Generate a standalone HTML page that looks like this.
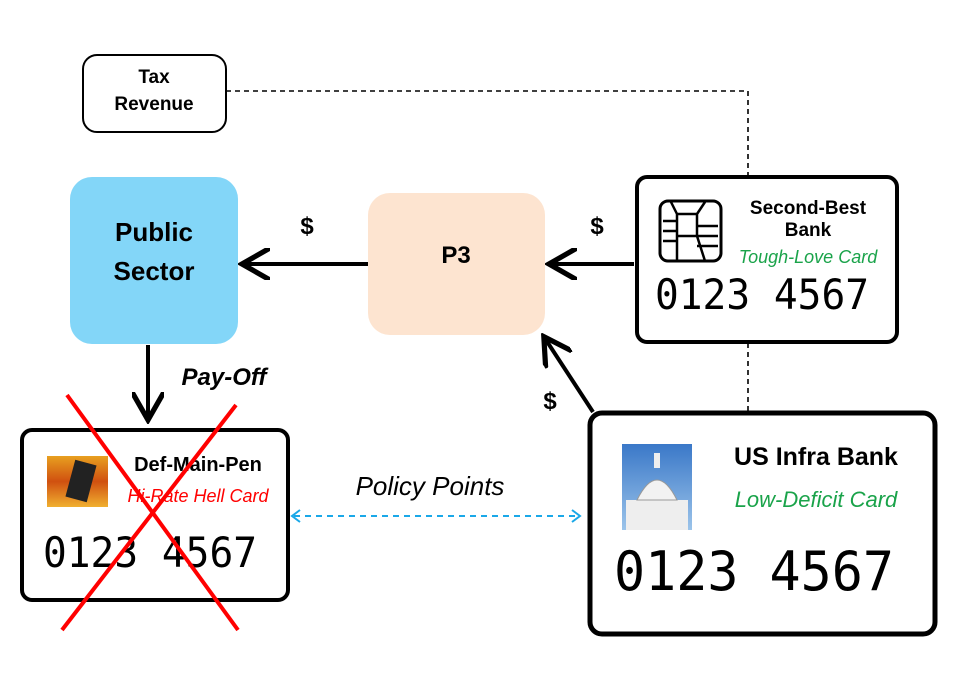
<!DOCTYPE html>
<html><head><meta charset="utf-8"><style>
html,body{margin:0;padding:0;background:#fff;}
svg{display:block;font-family:"Liberation Sans",Arial,sans-serif;}
</style></head><body>
<svg width="978" height="688" viewBox="0 0 978 688" xmlns="http://www.w3.org/2000/svg">
<defs>
<marker id="ah" markerWidth="8" markerHeight="8" refX="6" refY="4" orient="auto" markerUnits="strokeWidth"><path d="M0,0 L7,4 L0,8" fill="none" stroke="#000" stroke-width="1.3"/></marker>
<linearGradient id="fire" x1="0" y1="0" x2="0" y2="1"><stop offset="0" stop-color="#e8a020"/><stop offset="0.5" stop-color="#d05010"/><stop offset="1" stop-color="#f0b030"/></linearGradient>
<linearGradient id="sky" x1="0" y1="0" x2="0" y2="1"><stop offset="0" stop-color="#3a78c8"/><stop offset="1" stop-color="#9cc4ea"/></linearGradient>
</defs>
<path d="M226,91 H748 V176" fill="none" stroke="#000" stroke-width="1.6" stroke-dasharray="5,4"/>
<path d="M748,343 V412" fill="none" stroke="#000" stroke-width="1.6" stroke-dasharray="5,4"/>
<rect x="83" y="55" width="143" height="77" rx="14" fill="#fff" stroke="#000" stroke-width="2"/>
<text x="154" y="83" text-anchor="middle" font-size="19" font-weight="bold">Tax</text>
<text x="154" y="110" text-anchor="middle" font-size="19" font-weight="bold">Revenue</text>
<rect x="70" y="177" width="168" height="167" rx="22" fill="#83d6f8"/>
<text x="154" y="241" text-anchor="middle" font-size="26" font-weight="bold">Public</text>
<text x="154" y="280" text-anchor="middle" font-size="26" font-weight="bold">Sector</text>
<rect x="368" y="193" width="177" height="142" rx="22" fill="#fde4d0"/>
<text x="456" y="263" text-anchor="middle" font-size="24" font-weight="bold">P3</text>
<line x1="368" y1="264" x2="246" y2="264" stroke="#000" stroke-width="4" marker-end="url(#ah)"/>
<line x1="634" y1="264" x2="553" y2="264" stroke="#000" stroke-width="4" marker-end="url(#ah)"/>
<line x1="593" y1="412" x2="546" y2="340" stroke="#000" stroke-width="4" marker-end="url(#ah)"/>
<line x1="148" y1="345" x2="148" y2="416" stroke="#000" stroke-width="4" marker-end="url(#ah)"/>
<text x="307" y="234" text-anchor="middle" font-size="24" font-weight="bold">$</text>
<text x="597" y="234" text-anchor="middle" font-size="24" font-weight="bold">$</text>
<text x="550" y="409" text-anchor="middle" font-size="24" font-weight="bold">$</text>
<text x="224" y="385" text-anchor="middle" font-size="24" font-weight="bold" font-style="italic">Pay-Off</text>
<line x1="294" y1="516" x2="578" y2="516" stroke="#1aa8e8" stroke-width="2" stroke-dasharray="6,5"/>
<path d="M300,510 L292,516 L300,522 M572,510 L580,516 L572,522" fill="none" stroke="#1aa8e8" stroke-width="2"/>
<text x="430" y="495" text-anchor="middle" font-size="26" font-style="italic">Policy Points</text>
<rect x="637" y="177" width="260" height="165" rx="10" fill="#fff" stroke="#000" stroke-width="4"/>
<rect x="660" y="201" width="61" height="60" rx="8" fill="#fff" stroke="#000" stroke-width="3"/>
<path d="M677,214 h20 v22 h-20 z M663,221 h14 M663,231 h14 M663,241 h14 M697,226 h21 M697,236 h21 M697,246 h21 M677,214 l-6,-12 M697,214 l8,-12 M677,236 l0,25 M697,236 l8,25" fill="none" stroke="#000" stroke-width="2.5"/>
<text x="808" y="214" text-anchor="middle" font-size="19" font-weight="bold">Second-Best</text>
<text x="808" y="236" text-anchor="middle" font-size="19" font-weight="bold">Bank</text>
<text x="808" y="263" text-anchor="middle" font-size="18" font-style="italic" fill="#1aa34a">Tough-Love Card</text>
<text x="655" y="309" font-size="42" font-family="'DejaVu Sans Mono',monospace" textLength="214" lengthAdjust="spacingAndGlyphs">0123 4567</text>
<rect x="590" y="413" width="345" height="221" rx="12" fill="#fff" stroke="#000" stroke-width="5"/>
<rect x="622" y="444" width="70" height="86" fill="url(#sky)"/>
<path d="M626,530 V500 h62 v30 z" fill="#eee"/>
<path d="M637,500 q20,-40 40,0 z" fill="#f2f2f2" stroke="#999"/>
<rect x="654" y="453" width="6" height="15" fill="#eee"/>
<text x="816" y="465" text-anchor="middle" font-size="25" font-weight="bold">US Infra Bank</text>
<text x="816" y="507" text-anchor="middle" font-size="22" font-style="italic" fill="#1aa34a">Low-Deficit Card</text>
<text x="614" y="590" font-size="54" font-family="'DejaVu Sans Mono',monospace" textLength="280" lengthAdjust="spacingAndGlyphs">0123 4567</text>
<rect x="22" y="430" width="266" height="170" rx="10" fill="#fff" stroke="#000" stroke-width="4"/>
<rect x="47" y="456" width="61" height="51" fill="url(#fire)"/>
<rect x="70" y="462" width="22" height="38" fill="#222" transform="rotate(15 81 481)"/>
<text x="198" y="471" text-anchor="middle" font-size="20" font-weight="bold">Def-Main-Pen</text>
<text x="198" y="502" text-anchor="middle" font-size="18" font-style="italic" fill="#f00">Hi-Rate Hell Card</text>
<text x="43" y="567" font-size="42" font-family="'DejaVu Sans Mono',monospace" textLength="214" lengthAdjust="spacingAndGlyphs">0123 4567</text>
<line x1="67" y1="395" x2="238" y2="630" stroke="#f00" stroke-width="4"/>
<line x1="236" y1="405" x2="62" y2="630" stroke="#f00" stroke-width="4"/>
</svg>
</body></html>
